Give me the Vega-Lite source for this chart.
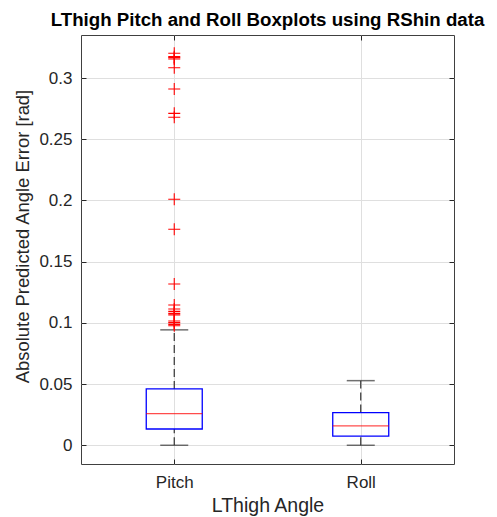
{
  "$schema": "https://vega.github.io/schema/vega-lite/v6.json",
  "width": 373,
  "height": 429,
  "autosize": "none",
  "padding": {"left": 81, "top": 35, "right": 43, "bottom": 53},
  "background": "white",
  "config": {
    "font": "Liberation Sans",
    "view": {"stroke": "#404040", "strokeWidth": 1},
    "axis": {
      "gridColor": "#dfdfdf",
      "gridWidth": 1,
      "domain": false,
      "tickColor": "#262626",
      "tickSize": -5,
      "labelPadding": 14,
      "labelColor": "#262626",
      "labelFontSize": 17,
      "titleColor": "#262626",
      "titleFontSize": 19,
      "titleFontWeight": "normal"
    }
  },
  "title": {
    "text": "LThigh Pitch and Roll Boxplots using RShin data",
    "fontSize": 18.7,
    "fontWeight": "bold",
    "color": "#000000",
    "anchor": "middle",
    "offset": 5
  },
  "datasets": {
    "stats": [
      {"angle": "Pitch", "lo": 0, "q1": 0.0133, "median": 0.0258, "q3": 0.046, "hi": 0.0943},
      {"angle": "Roll", "lo": 0, "q1": 0.0074, "median": 0.0158, "q3": 0.0267, "hi": 0.0528}
    ],
    "outliers": [
      {"angle": "Pitch", "value": 0.3203},
      {"angle": "Pitch", "value": 0.3175},
      {"angle": "Pitch", "value": 0.3167},
      {"angle": "Pitch", "value": 0.3156},
      {"angle": "Pitch", "value": 0.3085},
      {"angle": "Pitch", "value": 0.2911},
      {"angle": "Pitch", "value": 0.2712},
      {"angle": "Pitch", "value": 0.268},
      {"angle": "Pitch", "value": 0.201},
      {"angle": "Pitch", "value": 0.1765},
      {"angle": "Pitch", "value": 0.1318},
      {"angle": "Pitch", "value": 0.1146},
      {"angle": "Pitch", "value": 0.1113},
      {"angle": "Pitch", "value": 0.1094},
      {"angle": "Pitch", "value": 0.1078},
      {"angle": "Pitch", "value": 0.1065},
      {"angle": "Pitch", "value": 0.1015},
      {"angle": "Pitch", "value": 0.1002},
      {"angle": "Pitch", "value": 0.0988},
      {"angle": "Pitch", "value": 0.0977}
    ]
  },
  "resolve": {"axis": {"x": "independent", "y": "independent"}},
  "layer": [
    {
      "data": {"name": "stats"},
      "mark": {"type": "rule", "color": "#333333", "strokeWidth": 1.2, "strokeDash": [8, 4]},
      "encoding": {
        "x": {
          "field": "angle", "type": "nominal",
          "scale": {"type": "point", "padding": 0.5, "domain": ["Pitch", "Roll"]},
          "axis": {"orient": "bottom", "title": "LThigh Angle", "titleFontSize": 19.5, "labelAngle": 0, "grid": true, "titlePadding": 6, "labelPadding": 15}
        },
        "y": {
          "field": "q3", "type": "quantitative",
          "scale": {"domain": [-0.0153, 0.3352], "nice": false, "zero": false},
          "axis": {
            "orient": "left",
            "title": "Absolute Predicted Angle Error [rad]",
            "titleFontSize": 18.4,
            "titleY": 201,
            "values": [0, 0.05, 0.1, 0.15, 0.2, 0.25, 0.3],
            "format": "~g",
            "grid": true,
            "titlePadding": 6
          }
        },
        "y2": {"field": "hi"}
      }
    },
    {
      "data": {"name": "stats"},
      "mark": {"type": "rule", "color": "#333333", "strokeWidth": 1.2, "strokeDash": [8, 4]},
      "encoding": {
        "x": {"field": "angle", "type": "nominal", "axis": null},
        "y": {"field": "lo", "type": "quantitative", "axis": null},
        "y2": {"field": "q1"}
      }
    },
    {
      "data": {"name": "stats"},
      "mark": {"type": "tick", "color": "#333333", "size": 28, "thickness": 1.5},
      "encoding": {
        "x": {"field": "angle", "type": "nominal", "axis": null},
        "y": {"field": "hi", "type": "quantitative", "axis": null}
      }
    },
    {
      "data": {"name": "stats"},
      "mark": {"type": "tick", "color": "#333333", "size": 28, "thickness": 1.5},
      "encoding": {
        "x": {"field": "angle", "type": "nominal", "axis": null},
        "y": {"field": "lo", "type": "quantitative", "axis": null}
      }
    },
    {
      "data": {"name": "stats"},
      "mark": {"type": "bar", "size": 56, "fill": "white", "fillOpacity": 0, "stroke": "#0000ff", "strokeWidth": 1.3},
      "encoding": {
        "x": {"field": "angle", "type": "nominal", "axis": null},
        "y": {"field": "q1", "type": "quantitative", "axis": null},
        "y2": {"field": "q3"}
      }
    },
    {
      "data": {"name": "stats"},
      "mark": {"type": "tick", "color": "#ff0000", "size": 56, "thickness": 1.2},
      "encoding": {
        "x": {"field": "angle", "type": "nominal", "axis": null},
        "y": {"field": "median", "type": "quantitative", "axis": null}
      }
    },
    {
      "data": {"name": "outliers"},
      "mark": {"type": "point", "shape": "M-1,0H1M0,-1V1", "size": 144, "filled": false, "stroke": "#ff0000", "strokeWidth": 1.1, "opacity": 1},
      "encoding": {
        "x": {"field": "angle", "type": "nominal", "axis": null},
        "y": {"field": "value", "type": "quantitative", "axis": null}
      }
    },
    {
      "data": {"name": "stats"},
      "mark": {"type": "rule", "opacity": 0},
      "encoding": {
        "x": {
          "field": "angle", "type": "nominal",
          "axis": {"orient": "top", "title": null, "labels": false, "grid": false, "ticks": true}
        },
        "y": {
          "field": "hi", "type": "quantitative",
          "axis": {"orient": "right", "title": null, "labels": false, "grid": false, "ticks": true, "values": [0, 0.05, 0.1, 0.15, 0.2, 0.25, 0.3]}
        }
      }
    }
  ]
}
